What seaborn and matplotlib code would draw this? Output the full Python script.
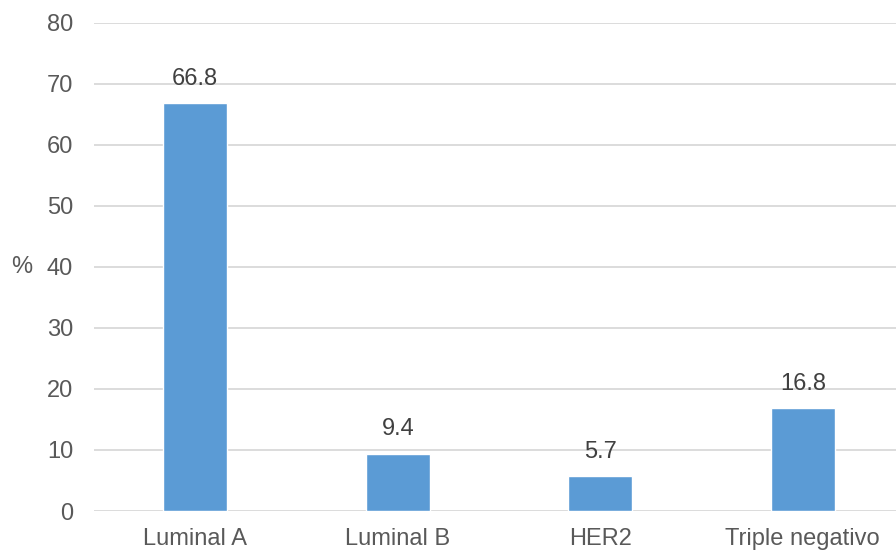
import matplotlib
matplotlib.use("Agg")
import matplotlib.pyplot as plt
import seaborn as sns
import pandas as pd

categories = ["Luminal A", "Luminal B", "HER2", "Triple negativo"]
values = [66.8, 9.4, 5.7, 16.8]
y_ticks = [0, 10, 20, 30, 40, 50, 60, 70, 80]

sns.set_theme(style="white")
plt.rcParams["font.family"] = ["Liberation Sans", "DejaVu Sans"]

df = pd.DataFrame({"subtype": categories, "pct": values})

fig = plt.figure(figsize=(8.96, 5.52), dpi=100)
ax = fig.add_axes([94 / 896, 1 - 511 / 552, 810 / 896, (511 - 22.5) / 552])

sns.barplot(data=df, x="subtype", y="pct", color="#5b9bd5", saturation=1,
            width=0.316, ax=ax, zorder=3)

ax.set_ylim(0, 80)
ax.set_xlim(-0.5, len(categories) - 0.5)
ax.set_yticks(y_ticks)
ax.yaxis.grid(True, color="#d9d9d9", linewidth=1.3, zorder=0)
ax.set_axisbelow(True)
for s in ax.spines.values():
    s.set_visible(False)
ax.tick_params(axis="both", length=0, labelsize=17, colors="#595959")
ax.tick_params(axis="y", pad=15)
ax.tick_params(axis="x", pad=12.5)
ax.set_xlabel("")
ax.set_ylabel("%", rotation=0, fontsize=17, color="#595959", ha="center", va="center")
ax.yaxis.set_label_coords(-72 / 810, 0.5)

for i, v in enumerate(values):
    ax.annotate(f"{v:.1f}", (i, v), xytext=(0, 9.5), textcoords="offset points",
                ha="center", va="bottom", fontsize=17, color="#404040")

fig.savefig("out.png", dpi=100)
